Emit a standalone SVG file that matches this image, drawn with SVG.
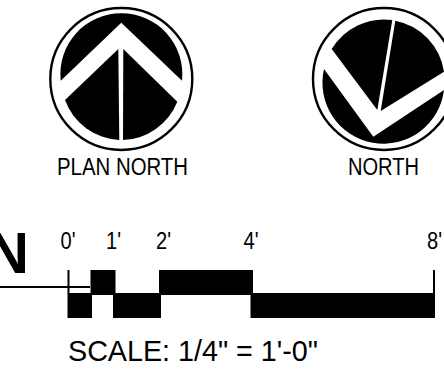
<svg xmlns="http://www.w3.org/2000/svg" width="444" height="374" viewBox="0 0 444 374">
<style>
text{font-family:"Liberation Sans",Arial,sans-serif;fill:#000}
.l{font-size:23px}
.ring{fill:#fff;stroke:#000;stroke-width:2.4}
.k{fill:#000}
</style>
<rect width="444" height="374" fill="#fff"/>
<g id="plan-north">
<circle class="ring" cx="121.3" cy="79" r="71"/>
<path class="k" d="M60.7 80.7L121.3 22.7L182 80.7A61 61 0 1 0 60.7 80.7Z"/>
<path class="k" d="M65 100L118.3 49L119.3 140A61 61 0 0 1 65 100Z"/>
<path class="k" d="M123.3 49L177.3 101.7A61 61 0 0 1 123 140Z"/>
<text class="l" x="57" y="174.500" textLength="131" lengthAdjust="spacingAndGlyphs">PLAN NORTH</text>
</g>
<g id="north">
<circle class="ring" cx="384" cy="79" r="71"/>
<path class="k" d="M331.7 49L377.3 110L392.3 20A61 61 0 0 0 331.7 49Z"/>
<path class="k" d="M395.3 20.7L380.7 111L444 71.7A61 61 0 0 0 395.3 20.7Z"/>
<path class="k" d="M324 69L373.3 136.7L444 90A61 61 0 1 1 324 69Z"/>
<text class="l" x="348" y="174.500" textLength="71" lengthAdjust="spacingAndGlyphs">NORTH</text>
</g>
<g id="scale-bar">
<text x="-13" y="273" font-size="58" font-weight="700">N</text>
<path d="M0 287H90" stroke="#000" stroke-width="2" fill="none"/>
<path d="M68.500 270V294M434 270V294" stroke="#000" stroke-width="2" fill="none"/>
<rect class="k" x="67.500" y="293" width="24.500" height="25"/>
<rect class="k" x="90.500" y="270" width="25" height="25"/>
<rect class="k" x="113" y="293" width="48" height="25"/>
<rect class="k" x="159" y="270" width="94" height="25"/>
<rect class="k" x="250.500" y="293" width="184.500" height="25"/>
<text class="l" x="60.500" y="249" textLength="15" lengthAdjust="spacingAndGlyphs">0'</text>
<text class="l" x="106" y="249" textLength="15" lengthAdjust="spacingAndGlyphs">1'</text>
<text class="l" x="156" y="249" textLength="15" lengthAdjust="spacingAndGlyphs">2'</text>
<text class="l" x="243.500" y="249" textLength="15" lengthAdjust="spacingAndGlyphs">4'</text>
<text class="l" x="427" y="249" textLength="15" lengthAdjust="spacingAndGlyphs">8'</text>
<text x="68" y="361" font-size="30" textLength="250" lengthAdjust="spacingAndGlyphs">SCALE: 1/4" = 1'-0"</text>
</g>
</svg>
